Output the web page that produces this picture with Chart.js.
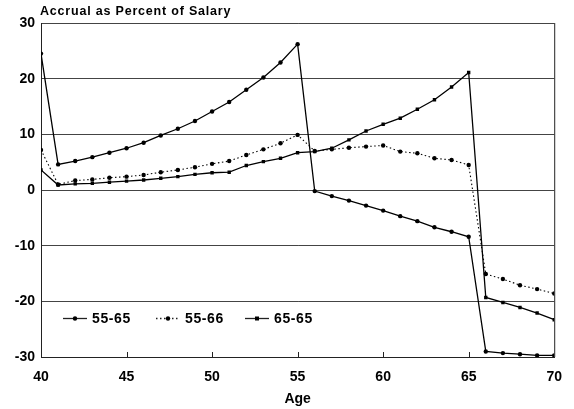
<!DOCTYPE html>
<html>
<head>
<meta charset="utf-8">
<script src="https://cdn.jsdelivr.net/npm/chart.js@4.4.1/dist/chart.umd.min.js"></script>
<style>
  html, body { margin: 0; padding: 0; background: #fff; }
  #wrap { width: 574px; height: 409px; position: relative; }
</style>
</head>
<body>
<div id="wrap"><canvas id="accrualChart" width="574" height="409"></canvas></div>
<script>
const ages = [40, 41, 42, 43, 44, 45, 46, 47, 48, 49, 50, 51, 52, 53, 54, 55,
  56, 57, 58, 59, 60, 61, 62, 63, 64, 65, 66, 67, 68, 69, 70];

// 55-65 (solid, circles)
const early55norm65 = [24.5, 4.6, 5.2, 5.9, 6.7, 7.5, 8.5, 9.8, 11.0, 12.4, 14.1,
  15.8, 18.0, 20.2, 22.9, 26.2, -0.2, -1.1, -1.9, -2.8, -3.7, -4.7, -5.6, -6.7,
  -7.5, -8.4, -29.0, -29.3, -29.5, -29.7, -29.7];

// 55-66 (dotted)
const early55norm66 = [7.2, 1.0, 1.7, 1.9, 2.2, 2.4, 2.7, 3.2, 3.6, 4.1, 4.7,
  5.2, 6.3, 7.3, 8.4, 9.9, 7.0, 7.3, 7.6, 7.8, 8.0, 6.9, 6.6, 5.7, 5.4, 4.5,
  -15.1, -16.0, -17.1, -17.8, -18.6];

// 65-65 (solid, squares)
const early65norm65 = [3.6, 0.9, 1.1, 1.2, 1.4, 1.6, 1.8, 2.1, 2.4, 2.8, 3.1,
  3.2, 4.4, 5.1, 5.7, 6.7, 6.9, 7.5, 9.0, 10.6, 11.8, 12.9, 14.5, 16.2, 18.5,
  21.1, -19.3, -20.2, -21.1, -22.1, -23.3];

const seriesLabels = ["55-65", "55-66", "65-65"];
const xTicks = [40, 45, 50, 55, 60, 65, 70];
const yTicks = [-30, -20, -10, 0, 10, 20, 30];

const toPoints = (vals) => vals.map((v, i) => ({ x: ages[i], y: v }));
const FONT = "'Liberation Sans', Arial, sans-serif";

// title, box, inner ticks and legend drawn on the canvas
const extras = {
  id: "extras",
  afterDraw(chart) {
    const c = chart.ctx;
    const a = chart.chartArea;
    const xs = chart.scales.x;
    c.save();
    c.fillStyle = "#000";
    c.font = "bold 12.5px " + FONT;
    c.letterSpacing = "0.8px";
    c.textBaseline = "middle";
    c.textAlign = "left";
    c.fillText("Accrual as Percent of Salary", 40, 12);

    c.strokeStyle = "#222";
    c.lineWidth = 1;
    c.beginPath();
    c.moveTo(a.right + 0.5, a.top);
    c.lineTo(a.right + 0.5, a.bottom);
    c.stroke();

    // little ticks pointing into the plot
    c.beginPath();
    xTicks.slice(1, -1).forEach((t) => {
      const px = Math.round(xs.getPixelForValue(t)) + 0.5;
      c.moveTo(px, a.bottom);
      c.lineTo(px, a.bottom - 5);
    });
    c.stroke();

    // legend
    const items = [
      { x: 63, dash: [], style: "circle" },
      { x: 156, dash: [1.5, 2.5], style: "circle" },
      { x: 245, dash: [], style: "rect" },
    ];
    const ly = 318.5;
    c.letterSpacing = "0.6px";
    items.forEach((it, i) => {
      c.setLineDash(it.dash);
      c.lineWidth = 1.3;
      c.beginPath();
      c.moveTo(it.x, ly);
      c.lineTo(it.x + 24, ly);
      c.stroke();
      c.setLineDash([]);
      c.beginPath();
      if (it.style === "rect") {
        c.rect(it.x + 10, ly - 2, 4, 4);
      } else {
        c.arc(it.x + 12, ly, 2.2, 0, Math.PI * 2);
      }
      c.fill();
      c.font = "bold 14px " + FONT;
      c.textAlign = "left";
      c.fillText(seriesLabels[i], it.x + 29, ly + 1);
    });
    c.restore();
  },
};

const lineBase = {
  borderColor: "#000",
  backgroundColor: "#000",
  borderWidth: 1.3,
  pointRadius: 2.2,
  pointHoverRadius: 2.2,
  pointBorderWidth: 0,
  tension: 0,
  fill: false,
};

new Chart(document.getElementById("accrualChart"), {
  type: "line",
  data: {
    datasets: [
      Object.assign({}, lineBase, {
        label: seriesLabels[0],
        data: toPoints(early55norm65),
        pointStyle: "circle",
      }),
      Object.assign({}, lineBase, {
        label: seriesLabels[1],
        data: toPoints(early55norm66),
        borderDash: [1.5, 2.5],
        borderWidth: 1.1,
        pointStyle: "circle",
      }),
      Object.assign({}, lineBase, {
        label: seriesLabels[2],
        data: toPoints(early65norm65),
        pointStyle: "rect",
        pointRadius: 2.4,
      }),
    ],
  },
  options: {
    responsive: false,
    animation: false,
    events: [],
    layout: { padding: { top: 23, right: 11, left: 0, bottom: 0 } },
    plugins: {
      legend: { display: false },
      tooltip: { enabled: false },
      title: { display: false },
    },
    scales: {
      x: {
        type: "linear",
        min: 40,
        max: 70,
        afterFit: (s) => { s.height = 52; },
        afterBuildTicks: (s) => { s.ticks = xTicks.map((v) => ({ value: v })); },
        grid: { display: false, drawTicks: false },
        border: { display: true, color: "#222", width: 1 },
        ticks: {
          padding: 12,
          color: "#000",
          font: { family: FONT, size: 14, weight: "bold" },
        },
        title: {
          display: true,
          text: "Age",
          color: "#000",
          padding: { top: 0, bottom: 1 },
          font: { family: FONT, size: 14, weight: "bold" },
        },
      },
      y: {
        min: -30,
        max: 30,
        afterFit: (s) => { s.width = 41; },
        afterBuildTicks: (s) => { s.ticks = yTicks.map((v) => ({ value: v })); },
        grid: { color: "#444", lineWidth: 1, drawTicks: false },
        border: { display: true, color: "#222", width: 1 },
        ticks: {
          padding: 6,
          color: "#000",
          font: { family: FONT, size: 14, weight: "bold" },
        },
      },
    },
  },
  plugins: [extras],
});
</script>
</body>
</html>
